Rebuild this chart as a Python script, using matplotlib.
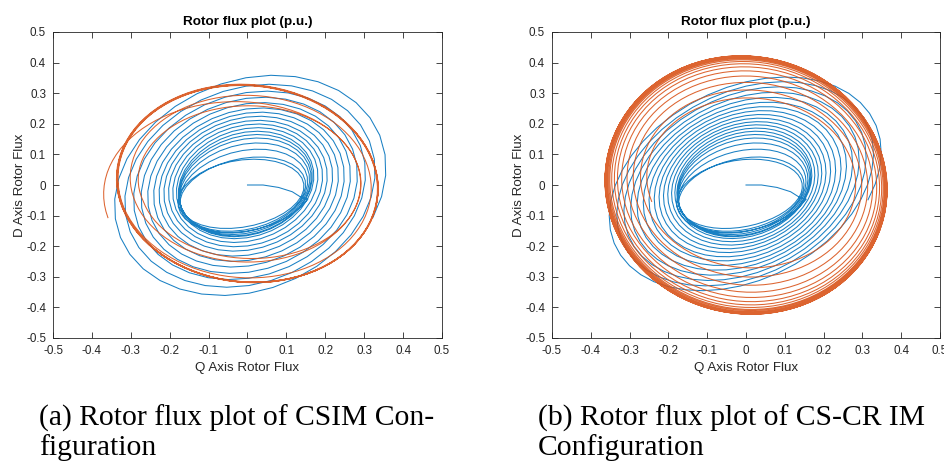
import numpy as np
import matplotlib
matplotlib.use("Agg")
import matplotlib.pyplot as plt

# ---- trajectory data (per-turn ellipse readings, p.u.) ----
# Each turn: Q half-width, D half-height, tilt phase (deg), centre Q, centre D
csim_blue_start_q = [0.0, 0.04, 0.08, 0.115, 0.14]
csim_blue_start_d = [0.0, 0.0, -0.008, -0.022, -0.042]
csim_blue_aq = [0.178, 0.158, 0.162, 0.165, 0.168, 0.170, 0.172, 0.175, 0.185, 0.196,
                0.208, 0.221, 0.235, 0.250, 0.266, 0.284, 0.305, 0.330, 0.358]
csim_blue_ad = [0.140, 0.105, 0.125, 0.140, 0.152, 0.162, 0.168, 0.176, 0.188, 0.201,
                0.214, 0.229, 0.244, 0.260, 0.280, 0.298, 0.321, 0.345, 0.378]
csim_blue_tilt = [15, 14, 13, 12, 11, 10, 10, 9, 9, 8, 8, 8, 8, 8, 8, 8, 9, 10, 11]
csim_blue_cq = [-0.005, -0.015, -0.012, -0.010, -0.008, -0.006, -0.005, -0.004, -0.003,
                -0.002, -0.002, -0.001, 0.0, 0.0, 0.0, 0.0, 0.0, 0.0, 0.0]
csim_blue_cd = [-0.020, -0.035, -0.025, -0.016, -0.009, -0.004, 0.0, 0.003, 0.003, 0.002,
                0.001, 0.0, -0.002, -0.004, -0.005, -0.006, -0.008, -0.009, -0.010]

csim_orange_aq = [0.340, 0.280, 0.300, 0.333, 0.335, 0.336, 0.334, 0.337, 0.335, 0.336, 0.335]
csim_orange_ad = [0.300, 0.235, 0.270, 0.320, 0.322, 0.324, 0.321, 0.325, 0.323, 0.322, 0.324]
csim_orange_tilt = [0, 0, -2, -3, -3, -3, -3, -3, -3, -3, -3]
csim_orange_cq = [-0.034, 0.0, 0.0, 0.0, 0.0, 0.0, 0.0, 0.0, 0.0, 0.0, 0.0]
csim_orange_cd = [-0.018, 0.015, 0.010, 0.005, 0.004, 0.005, 0.004, 0.005, 0.005, 0.004, 0.005]

cscr_blue_start_q = [0.0, 0.04, 0.08, 0.115, 0.14]
cscr_blue_start_d = [0.0, 0.0, -0.008, -0.022, -0.042]
cscr_blue_aq = [0.178, 0.158, 0.162, 0.165, 0.168, 0.170, 0.172, 0.175, 0.183, 0.192,
                0.202, 0.213, 0.225, 0.238, 0.252, 0.267, 0.283, 0.300, 0.318, 0.337, 0.357]
cscr_blue_ad = [0.140, 0.105, 0.125, 0.140, 0.152, 0.162, 0.168, 0.176, 0.186, 0.197,
                0.208, 0.220, 0.233, 0.246, 0.260, 0.275, 0.291, 0.308, 0.326, 0.342, 0.357]
cscr_blue_tilt = [15, 14, 13, 12, 11, 10, 10, 10, 10, 10, 11, 11, 12, 12, 13, 14, 15, 16,
                  17, 18, 18]
cscr_blue_cq = [-0.005, -0.015, -0.012, -0.010, -0.008, -0.006, -0.005, -0.005, -0.005,
                -0.005, -0.006, -0.006, -0.006, -0.006, -0.006, -0.007, -0.007, -0.007,
                -0.007, -0.007, -0.007]
cscr_blue_cd = [-0.020, -0.035, -0.025, -0.016, -0.009, -0.004, 0.0, 0.003, 0.003, 0.003,
                0.002, 0.002, 0.001, 0.001, 0.0, 0.0, 0.0, 0.0, 0.0, 0.0, 0.0]

cscr_orange_aq = [0.265, 0.280, 0.298, 0.313, 0.326, 0.336, 0.343, 0.349, 0.353, 0.356,
                  0.358, 0.360, 0.361, 0.362, 0.3625, 0.363, 0.363, 0.3635, 0.3635, 0.364]
cscr_orange_ad = [0.262, 0.290, 0.318, 0.342, 0.362, 0.377, 0.389, 0.398, 0.405, 0.410,
                  0.413, 0.416, 0.418, 0.419, 0.420, 0.421, 0.4215, 0.422, 0.4222, 0.4225]
cscr_orange_tilt = [-2] * 20
cscr_orange_cq = [0.010, 0.009, 0.008, 0.007, 0.006, 0.005, 0.004, 0.003, 0.002, 0.002,
                  0.001, 0.001, 0.0, 0.0, 0.0, 0.0, 0.0, 0.0, 0.0, 0.0]
cscr_orange_cd = [0.015, 0.013, 0.011, 0.009, 0.007, 0.006, 0.005, 0.004, 0.003, 0.002,
                  0.002, 0.001, 0.001, 0.0, 0.0, 0.0, 0.0, 0.0, 0.0, 0.0]

tick_values = [-0.5, -0.4, -0.3, -0.2, -0.1, 0, 0.1, 0.2, 0.3, 0.4, 0.5]
tick_labels = ["-0.5", "-0.4", "-0.3", "-0.2", "-0.1", "0", "0.1", "0.2", "0.3", "0.4", "0.5"]
captions = ["(a) Rotor flux plot of CSIM Con-\nfiguration",
            "(b) Rotor flux plot of CS-CR IM\nConfiguration"]

BLUE = "#0072BD"
ORANGE = "#D95319"


def spiral(aq, ad, tilt, cq, cd, theta0, pts_per_turn):
    """Clockwise trajectory sweeping one turn per entry; parameters blend turn to turn."""
    aq, ad, tilt, cq, cd = map(np.asarray, (aq, ad, tilt, cq, cd))
    n = len(aq)
    s = np.linspace(0, n - 1, (n - 1) * pts_per_turn + 1)
    idx = np.arange(n)
    A = np.interp(s, idx, aq)
    B = np.interp(s, idx, ad)
    T = np.deg2rad(np.interp(s, idx, tilt))
    CQ = np.interp(s, idx, cq)
    CD = np.interp(s, idx, cd)
    th = theta0 - 2 * np.pi * s
    return CQ + A * np.cos(th), CD + B * np.sin(th + T)


plt.rcParams["font.family"] = ["Liberation Sans", "DejaVu Sans"]
fig = plt.figure(figsize=(9.45, 4.62), dpi=100)
fig.patch.set_facecolor("white")

panels = [
    dict(rect=[53 / 945, 1 - 338 / 462, 389 / 945, 306 / 462],
         bstart=(csim_blue_start_q, csim_blue_start_d),
         blue=(csim_blue_aq, csim_blue_ad, csim_blue_tilt, csim_blue_cq, csim_blue_cd),
         orange=(csim_orange_aq, csim_orange_ad, csim_orange_tilt, csim_orange_cq, csim_orange_cd),
         bpts=34, cap_x=39 / 945),
    dict(rect=[552 / 945, 1 - 338 / 462, 388 / 945, 306 / 462],
         bstart=(cscr_blue_start_q, cscr_blue_start_d),
         blue=(cscr_blue_aq, cscr_blue_ad, cscr_blue_tilt, cscr_blue_cq, cscr_blue_cd),
         orange=(cscr_orange_aq, cscr_orange_ad, cscr_orange_tilt, cscr_orange_cq, cscr_orange_cd),
         bpts=44, cap_x=538 / 945),
]

for p, cap in zip(panels, captions):
    ax = fig.add_axes(p["rect"])
    bq, bd = spiral(*p["blue"], theta0=-0.45, pts_per_turn=p["bpts"])
    bq = np.concatenate([p["bstart"][0], bq])
    bd = np.concatenate([p["bstart"][1], bd])
    ax.plot(bq, bd, color=BLUE, lw=0.75, alpha=0.9)
    oq, od = spiral(*p["orange"], theta0=np.pi + 0.3, pts_per_turn=90)
    ax.plot(oq, od, color=ORANGE, lw=0.75, alpha=0.9)

    ax.set_xlim(-0.5, 0.5)
    ax.set_ylim(-0.5, 0.5)
    ax.set_xticks(tick_values)
    ax.set_xticklabels(tick_labels)
    ax.set_yticks(tick_values)
    ax.set_yticklabels(tick_labels)
    ax.tick_params(direction="in", length=4, width=0.6, top=True, right=True,
                   labelsize=8.4, colors="#262626", pad=5)
    for sp in ax.spines.values():
        sp.set_color("#262626")
        sp.set_linewidth(0.6)
    ax.set_title("Rotor flux plot (p.u.)", fontsize=9.7, fontweight="bold",
                 color="black", pad=5)
    ax.set_xlabel("Q Axis Rotor Flux", fontsize=9.6, color="#262626", labelpad=4)
    ax.set_ylabel("D Axis Rotor Flux", fontsize=9.6, color="#262626", labelpad=0)

    for line, base in zip(cap.split("\n"), [426, 455]):
        fig.text(p["cap_x"], 1 - base / 462, line, ha="left", va="baseline",
                 fontsize=21.3, family=["Liberation Serif"], color="black")

fig.savefig("out.png", dpi=100)
